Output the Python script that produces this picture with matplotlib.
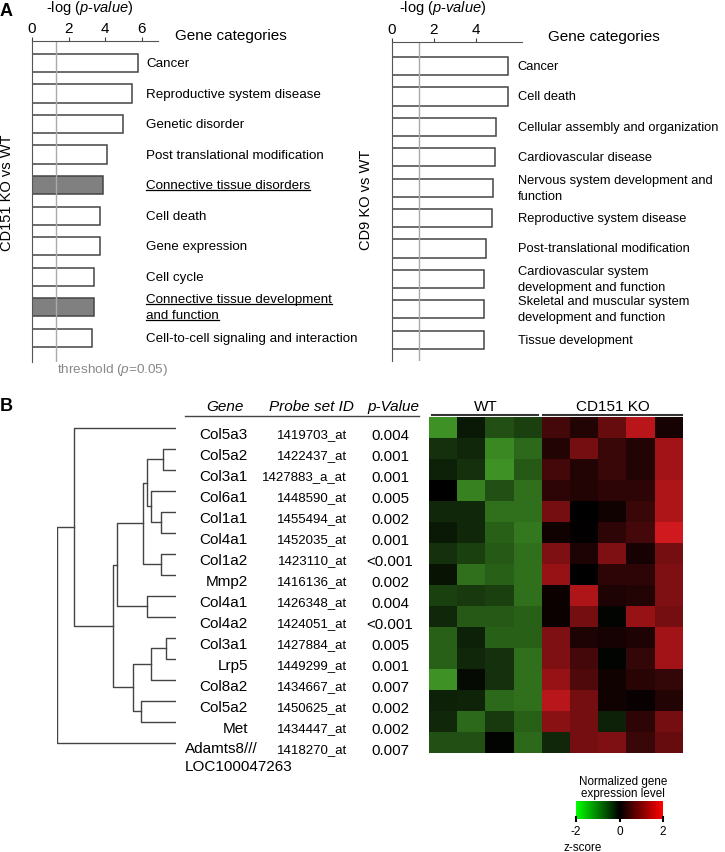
import matplotlib
matplotlib.use("Agg")
import matplotlib.pyplot as plt
import numpy as np
from matplotlib.colors import LinearSegmentedColormap
from matplotlib.lines import Line2D
import matplotlib.cm as cm

plt.rcParams['font.family'] = ['Liberation Sans', 'DejaVu Sans']
plt.rcParams['mathtext.fontset'] = 'custom'
plt.rcParams['mathtext.rm'] = 'Liberation Sans'
plt.rcParams['mathtext.it'] = 'Liberation Sans:italic'
plt.rcParams['axes.unicode_minus'] = False

# ---- panel A data ----
left_cats = ['Cancer', 'Reproductive system disease', 'Genetic disorder',
             'Post translational modification', 'Connective tissue disorders',
             'Cell death', 'Gene expression', 'Cell cycle',
             'Connective tissue development\nand function',
             'Cell-to-cell signaling and interaction']
left_vals = [5.8, 5.5, 5.0, 4.1, 3.9, 3.75, 3.75, 3.4, 3.4, 3.3]
left_highlight = [False, False, False, False, True, False, False, False, True, False]

right_cats = ['Cancer', 'Cell death', 'Cellular assembly and organization',
              'Cardiovascular disease', 'Nervous system development and\nfunction',
              'Reproductive system disease', 'Post-translational modification',
              'Cardiovascular system\ndevelopment and function',
              'Skeletal and muscular system\ndevelopment and function',
              'Tissue development']
right_vals = [5.55, 5.55, 4.95, 4.9, 4.8, 4.75, 4.5, 4.4, 4.4, 4.4]

threshold = -np.log10(0.05)

# ---- panel B data ----
genes = ['Col5a3', 'Col5a2', 'Col3a1', 'Col6a1', 'Col1a1', 'Col4a1', 'Col1a2', 'Mmp2',
         'Col4a1', 'Col4a2', 'Col3a1', 'Lrp5', 'Col8a2', 'Col5a2', 'Met',
         'Adamts8///\nLOC100047263']
probes = ['1419703_at', '1422437_at', '1427883_a_at', '1448590_at', '1455494_at',
          '1452035_at', '1423110_at', '1416136_at', '1426348_at', '1424051_at',
          '1427884_at', '1449299_at', '1434667_at', '1450625_at', '1434447_at',
          '1418270_at']
pvals = ['0.004', '0.001', '0.001', '0.005', '0.002', '0.001', '<0.001', '0.002',
         '0.004', '<0.001', '0.005', '0.001', '0.007', '0.002', '0.002', '0.007']

# z-scores: 4 WT columns, 5 CD151 KO columns
z = np.array([
    [-1.8, -0.3, -1.0, -0.8,   0.6, 0.3, 0.9, 1.6, 0.2],
    [-0.6, -0.5, -1.7, -1.3,   0.3, 1.0, 0.5, 0.3, 1.4],
    [-0.4, -0.6, -1.8, -1.1,   0.6, 0.3, 0.5, 0.3, 1.4],
    [0.0, -1.6, -1.0, -1.4,    0.4, 0.3, 0.4, 0.4, 1.5],
    [-0.5, -0.5, -1.4, -1.4,   1.0, 0.0, 0.15, 0.5, 1.5],
    [-0.3, -0.5, -1.2, -1.5,   0.15, 0.02, 0.4, 0.6, 1.8],
    [-0.6, -0.8, -1.1, -1.4,   1.1, 0.25, 1.1, 0.2, 1.0],
    [-0.25, -1.4, -1.2, -1.4,  1.3, 0.0, 0.4, 0.4, 1.1],
    [-0.8, -0.7, -0.8, -1.4,   0.1, 1.5, 0.25, 0.3, 1.1],
    [-0.5, -1.1, -1.1, -1.2,   0.1, 1.0, -0.05, 1.3, 1.0],
    [-1.2, -0.4, -1.2, -1.2,   1.1, 0.25, 0.2, 0.25, 1.4],
    [-1.2, -0.5, -0.6, -1.4,   1.1, 0.6, -0.05, 0.45, 1.4],
    [-1.8, -0.15, -0.6, -1.4,  1.3, 0.7, 0.15, 0.35, 0.45],
    [-0.4, -0.45, -1.3, -1.4,  1.6, 1.0, 0.15, 0.08, 0.3],
    [-0.5, -1.3, -0.7, -1.2,   1.2, 1.0, -0.4, 0.4, 1.0],
    [-1.0, -1.0, -0.05, -1.3,  -0.5, 1.0, 1.1, 0.5, 0.9],
])
n_wt = 4

# dendrogram merges: (child a, child b, height); leaves 0..15, new nodes 16..
merges = [(1, 2, 0.11), (4, 5, 0.13), (3, 17, 0.21), (16, 18, 0.24),
          (6, 7, 0.13), (19, 20, 0.28), (8, 9, 0.24), (21, 22, 0.50),
          (10, 11, 0.08), (24, 12, 0.21), (13, 14, 0.29), (25, 26, 0.36),
          (23, 27, 0.53), (0, 28, 0.86), (29, 15, 1.00)]

W, H = 725, 853
fig = plt.figure(figsize=(W / 100, H / 100), dpi=100)


def px_axes(x0, y0, x1, y1):
    return fig.add_axes([x0 / W, 1 - y1 / H, (x1 - x0) / W, (y1 - y0) / H])


def ftext(x, y, s, **kw):
    return fig.text(x / W, 1 - y / H, s, **kw)


underlined = []


def bar_panel(ax, cats, vals, highlight, xmax, ticks, ylim, label_x, fs):
    n = len(cats)
    y = np.arange(n)
    colors = ['#808080' if h else 'white' for h in highlight]
    ax.barh(y, vals, height=0.6, color=colors, edgecolor='#444444', linewidth=1.1)
    ax.set_xlim(0, xmax)
    ax.set_ylim(*ylim)
    ax.xaxis.tick_top()
    ax.set_xticks(ticks)
    ax.tick_params(axis='x', labelsize=11, length=3, pad=1, color='#444444')
    ax.set_yticks([])
    for s in ['right', 'bottom']:
        ax.spines[s].set_visible(False)
    for s in ['top', 'left']:
        ax.spines[s].set_color('#555555')
    ax.axvline(threshold, color='#aaaaaa', lw=1)
    for i, cat in enumerate(cats):
        lines = cat.split('\n')
        for k, line in enumerate(lines):
            off = (k - (len(lines) - 1) / 2) * 0.52
            t = ax.text(label_x, i + off, line, fontsize=fs, va='center', ha='left',
                        clip_on=False)
            if highlight[i]:
                underlined.append(t)


# left panel A
axL = px_axes(32, 42, 158, 363)
bar_panel(axL, left_cats, left_vals, left_highlight, 6.9, [0, 2, 4, 6],
          (9.79, -0.72), 6.24, 9.6)
axR = px_axes(392, 43, 522, 362)
bar_panel(axR, right_cats, right_vals, [False] * 10, 6.2, [0, 2, 4],
          (9.7, -0.79), 6.0, 9.3)

ftext(0, 11, 'A', fontsize=13, fontweight='bold', va='center')
ftext(90, 8, r'-log ($\mathit{p}$-$\mathit{value}$)', fontsize=10.5, ha='center', va='center')
ftext(443, 8, r'-log ($\mathit{p}$-$\mathit{value}$)', fontsize=10.5, ha='center', va='center')
ftext(175, 36, 'Gene categories', fontsize=11, va='center')
ftext(548, 37, 'Gene categories', fontsize=11, va='center')
ftext(7, 193, 'CD151 KO vs WT', fontsize=10.5, rotation=90, ha='center', va='center')
ftext(366, 200, 'CD9 KO vs WT', fontsize=10.5, rotation=90, ha='center', va='center')
ftext(57, 370, r'threshold ($\mathit{p}$=0.05)', fontsize=9.7, color='#888888', va='center')

# ---- panel B ----
ftext(0, 407, 'B', fontsize=13, fontweight='bold', va='center')
n_rows = len(genes)
ylimB = (n_rows - 0.5, -0.5)

# dendrogram
axD = px_axes(57, 418, 176, 754)
pos = {i: (0.0, float(i)) for i in range(n_rows)}
for k, (a, b, h) in enumerate(merges):
    xa, ya = pos[a]
    xb, yb = pos[b]
    axD.plot([xa, h, h, xb], [ya, ya, yb, yb], color='#444444', lw=1)
    pos[n_rows + k] = (h, (ya + yb) / 2)
axD.set_xlim(1.0, 0.0)
axD.set_ylim(*ylimB)
axD.axis('off')

# table
axT = px_axes(180, 418, 425, 754)
axT.set_xlim(180, 425)
axT.set_ylim(*ylimB)
axT.axis('off')
for i in range(n_rows):
    if '\n' in genes[i]:
        g1, g2 = genes[i].split('\n')
        axT.text(185, i + 0.24, g1, fontsize=11, ha='left', va='center')
        axT.text(185, i + 1.1, g2, fontsize=11, ha='left', va='center', clip_on=False)
    else:
        axT.text(248, i + 0.32, genes[i], fontsize=11, ha='right', va='center')
    axT.text(347, i + 0.3, probes[i], fontsize=9.5, ha='right', va='center')
    axT.text(390, i + 0.35, pvals[i], fontsize=10.8, ha='center', va='center')
hy = -1.0
axT.text(225, hy, 'Gene', fontsize=11, style='italic', ha='center', va='center', clip_on=False)
axT.text(311, hy, 'Probe set ID', fontsize=11, style='italic', ha='center', va='center', clip_on=False)
axT.text(393, hy, 'p-Value', fontsize=11, style='italic', ha='center', va='center', clip_on=False)
axT.plot([185, 419], [-0.57, -0.57], color='#444444', lw=1, clip_on=False)

# heatmap
heat_cmap = LinearSegmentedColormap.from_list(
    'gkr_muted', [(0.27, 0.63, 0.16), (0, 0, 0), (0.9, 0.11, 0.13)])
axH = px_axes(429, 418, 683, 754)
axH.imshow(z, cmap=heat_cmap, vmin=-2, vmax=2, aspect='auto', interpolation='nearest')
axH.set_ylim(*ylimB)
axH.axis('off')
n_cols = z.shape[1]
axH.text((n_wt - 1) / 2, hy, 'WT', fontsize=11, ha='center', va='center', clip_on=False)
axH.text((n_wt + n_cols - 1) / 2, hy, 'CD151 KO', fontsize=11, ha='center', va='center',
         clip_on=False)
axH.plot([-0.4, n_wt - 0.65], [-0.6, -0.6], color='#333333', lw=1.5, clip_on=False)
axH.plot([n_wt - 0.45, n_cols - 0.55], [-0.6, -0.6], color='#333333', lw=1.5, clip_on=False)

# colour scale
bar_cmap = LinearSegmentedColormap.from_list('gkr', [(0, 1, 0), (0, 0, 0), (1, 0, 0)])
axC = px_axes(576, 802, 663, 820)
sm = cm.ScalarMappable(cmap=bar_cmap, norm=plt.Normalize(-2, 2))
cb = fig.colorbar(sm, cax=axC, orientation='horizontal', ticks=[-2, 0, 2])
cb.outline.set_visible(False)
cb.ax.tick_params(labelsize=8.5, length=5, width=1.5, direction='inout', pad=2)
ftext(623, 788, 'Normalized gene\nexpression level', fontsize=8.4, ha='center', va='center',
      linespacing=1.1)
ftext(583, 848, 'z-score', fontsize=8.4, ha='center', va='center')

# underline highlighted categories
fig.canvas.draw()
r = fig.canvas.get_renderer()
for t in underlined:
    bb = t.get_window_extent(r).transformed(fig.transFigure.inverted())
    fig.add_artist(Line2D([bb.x0, bb.x1], [bb.y0 + 1.0 / H, bb.y0 + 1.0 / H],
                          transform=fig.transFigure, color='black', lw=0.9))

fig.savefig('out.png', dpi=100)
